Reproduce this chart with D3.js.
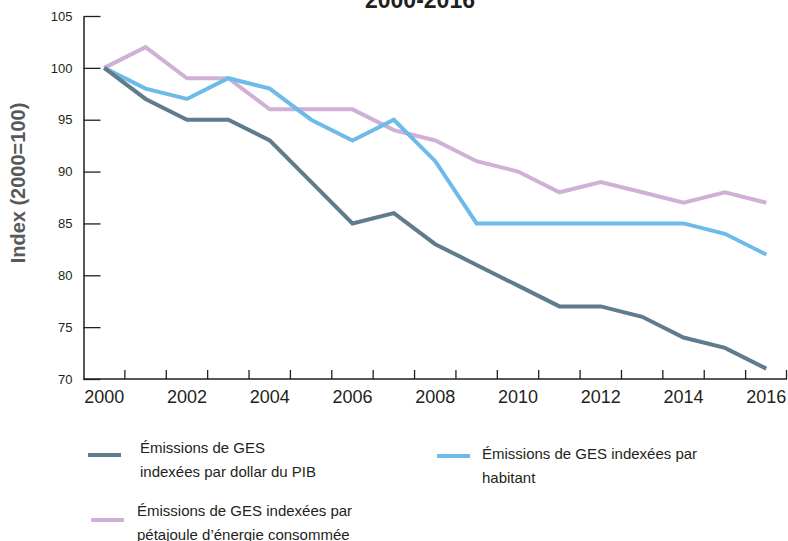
<!DOCTYPE html>
<html>
<head>
<meta charset="utf-8">
<script src="https://cdn.jsdelivr.net/npm/d3@7"></script>
<style>
  html, body { margin: 0; padding: 0; background: #fff; }
  svg { display: block; font-family: "Liberation Sans", Arial, sans-serif; }
</style>
</head>
<body>
<svg id="chart" width="788" height="541"></svg>
<script>
const years = [2000,2001,2002,2003,2004,2005,2006,2007,2008,2009,2010,2011,2012,2013,2014,2015,2016];
const yearLabels = [2000,2002,2004,2006,2008,2010,2012,2014,2016];
const yTicks = [70,75,80,85,90,95,100,105];
const seriesPIB = [100,97,95,95,93,89,85,86,83,81,79,77,77,76,74,73,71];
const seriesHabitant = [100,98,97,99,98,95,93,95,91,85,85,85,85,85,85,84,82];
const seriesEnergie = [100,102,99,99,96,96,96,94,93,91,90,88,89,88,87,88,87];
const seriesNames = [
  ["Émissions de GES", "indexées par dollar du PIB"],
  ["Émissions de GES indexées par", "habitant"],
  ["Émissions de GES indexées par", "pétajoule d’énergie consommée"]
];
const titleText = "2000-2016";
const yTitle = "Index (2000=100)";

const colors = ["#5f7b8c", "#6dbbe9", "#cfb1d6"];
const svg = d3.select("#chart");

const x = d3.scaleBand().domain(years).range([83.5, 787]).padding(0);
const xc = d => x(d) + x.bandwidth() / 2;
const y = d3.scaleLinear().domain([70, 105]).range([379, 16]);

// title
svg.append("text").attr("x", 420).attr("y", 8).attr("text-anchor", "middle")
  .attr("font-weight", "bold").attr("font-size", 23).attr("fill", "#231f20").text(titleText);

// y axis title
svg.append("text").attr("transform", "translate(25,183) rotate(-90)")
  .attr("text-anchor", "middle")
  .attr("font-weight", "bold").attr("font-size", 20).attr("fill", "#58595b").text(yTitle);

// y axis
const yAxis = svg.append("g").attr("transform", "translate(83.5,0)")
  .call(d3.axisLeft(y).tickValues(yTicks).tickSizeInner(-17).tickSizeOuter(0).tickPadding(11));
yAxis.select(".domain").attr("stroke", "#231f20").attr("stroke-width", 1.5);
yAxis.selectAll(".tick line").attr("stroke", "#231f20").attr("stroke-width", 1.3);
yAxis.selectAll(".tick text").attr("font-family", "Liberation Sans, Arial, sans-serif")
  .attr("font-size", 13).attr("fill", "#231f20");

// x axis labels (band centers)
const xAxis = svg.append("g").attr("transform", "translate(0,379)")
  .call(d3.axisBottom(x).tickValues(yearLabels).tickSize(0).tickPadding(11));
xAxis.select(".domain").remove();
xAxis.selectAll(".tick text").attr("font-family", "Liberation Sans, Arial, sans-serif")
  .attr("font-size", 18).attr("fill", "#231f20");

// x axis line and boundary ticks
svg.append("line").attr("x1", x.range()[0]).attr("x2", x.range()[1])
  .attr("y1", y(70)).attr("y2", y(70)).attr("stroke", "#231f20").attr("stroke-width", 1.5);
const boundaries = years.slice(1).map(d => x(d)).concat([x.range()[1] - 0.5]);
svg.append("g").selectAll("line").data(boundaries).join("line")
  .attr("x1", d => d).attr("x2", d => d)
  .attr("y1", y(70)).attr("y2", y(70) - 9)
  .attr("stroke", "#231f20").attr("stroke-width", 1.3);

// lines
const line = d3.line().x((d, i) => xc(years[i])).y(d => y(d));
const allSeries = [seriesEnergie, seriesHabitant, seriesPIB];
const allColors = [colors[2], colors[1], colors[0]];
allSeries.forEach((s, k) => {
  svg.append("path").datum(s).attr("d", line).attr("fill", "none")
    .attr("stroke", allColors[k]).attr("stroke-width", 4)
    .attr("stroke-linejoin", "miter").attr("stroke-linecap", "butt");
});

// legend
const legendItems = [
  {sx: 88, sy: 455, tx: 140, ty: 453, names: seriesNames[0], color: colors[0]},
  {sx: 437, sy: 456, tx: 482, ty: 459, names: seriesNames[1], color: colors[1]},
  {sx: 91, sy: 520, tx: 137, ty: 516, names: seriesNames[2], color: colors[2]}
];
const lg = svg.append("g").selectAll("g").data(legendItems).join("g");
lg.append("line").attr("x1", d => d.sx).attr("x2", d => d.sx + 33)
  .attr("y1", d => d.sy).attr("y2", d => d.sy)
  .attr("stroke", d => d.color).attr("stroke-width", 4);
lg.each(function(d) {
  const t = d3.select(this).append("text").attr("font-size", 15).attr("fill", "#231f20");
  d.names.forEach((n, i) => {
    t.append("tspan").attr("x", d.tx).attr("y", d.ty + i * 23.5).text(n);
  });
});
</script>
</body>
</html>
